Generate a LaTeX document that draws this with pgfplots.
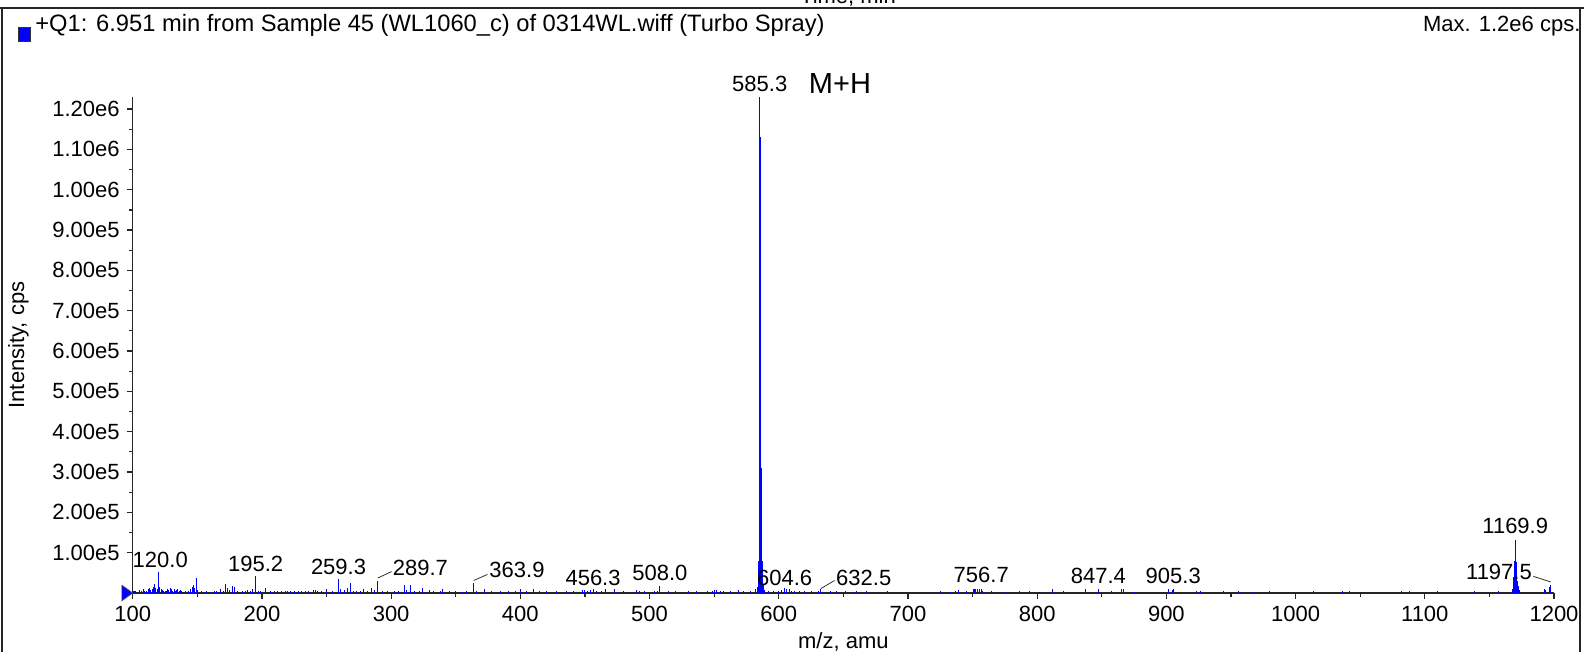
\documentclass[border=0pt]{standalone}
\usepackage{fontspec}
\setmainfont{Liberation Sans}
\usepackage{pgfplots}
\usepackage{pgfplotstable}
\pgfplotsset{compat=1.18}

\pgfplotstableread{
mz int
100.5 6000
101.5 4000
102.5 5000
104.0 3000
105.5 8000
106.5 5000
108.0 11000
109.0 6000
110.5 4000
112.0 9000
113.0 12000
114.0 7000
115.0 10000
116.0 16000
117.0 22000
118.0 12000
119.0 9000
120.0 53000
121.0 14000
122.0 10000
123.0 8000
124.0 6000
125.0 5000
126.0 4000
127.0 9000
128.0 7000
129.0 12000
130.0 10000
131.0 6000
132.0 11000
133.0 5000
134.0 8000
135.0 9000
136.0 4000
137.0 7000
138.0 5000
139.5 3000
141.0 4000
143.0 5000
145.0 9000
146.0 15000
147.0 20000
148.0 12000
149.5 36000
150.5 8000
153.0 4000
157.0 6000
163.0 5000
165.0 4000
168.0 9000
170.0 6000
171.5 22000
173.0 12000
175.0 8000
177.5 18000
179.0 14000
181.0 5000
185.0 6000
187.0 4000
189.0 8000
191.0 5000
193.0 9000
195.2 42000
197.0 6000
199.0 4000
203.0 13000
207.0 4000
210.0 5000
212.0 6000
215.0 4000
218.0 6000
220.0 4000
222.0 5000
225.0 4000
228.0 5000
231.0 4000
234.0 6000
236.0 4000
240.0 7000
241.5 8000
243.0 6000
246.0 5000
250.0 9000
255.0 4000
259.3 35000
261.0 9000
264.0 7000
266.0 12000
268.5 24000
271.0 6000
273.0 5000
276.0 6000
279.0 9000
282.0 6000
285.0 13000
287.0 8000
289.7 30000
293.0 4000
297.0 5000
303.0 4000
306.0 6000
310.0 20000
312.0 8000
315.0 20000
318.0 6000
322.0 4000
324.0 12000
330.0 8000
333.0 4000
338.0 6000
340.0 9000
345.0 4000
350.0 5000
355.0 3000
358.0 4000
363.9 24000
366.0 5000
372.0 11000
378.0 5000
385.0 4000
391.0 6000
396.0 4000
400.5 10000
405.0 4000
410.0 11000
415.0 4000
420.0 5000
428.0 4000
436.0 6000
441.0 5000
448.0 7000
450.0 8000
452.0 6000
454.0 8000
456.3 10000
459.0 5000
463.0 5000
466.0 11000
473.0 9000
480.0 4000
490.0 7000
492.0 5000
496.0 4000
504.0 5000
506.0 6000
508.0 17000
515.0 4000
520.0 5000
530.0 4000
536.0 5000
545.0 4000
549.0 6000
550.0 8000
552.0 7000
555.0 5000
557.0 4000
563.0 6000
569.0 7000
573.0 4000
578.0 6000
582.0 9000
583.5 14000
584.5 80000
585.0 320000
585.1 800000
585.2 1150000
585.3 1230000
585.4 1200000
585.5 1130000
585.6 900000
585.8 600000
586.0 525000
586.1 520000
586.2 380000
586.3 310000
586.5 200000
586.8 120000
587.0 110000
587.2 80000
587.5 45000
588.0 20000
589.0 8000
592.0 5000
596.0 4000
600.0 6000
602.0 7000
604.6 12000
606.0 9000
608.0 11000
610.0 6000
612.0 5000
616.0 4000
620.0 5000
625.0 4000
631.0 6000
632.5 10000
640.0 4000
645.0 5000
652.0 4000
660.0 5000
668.0 4000
675.0 3000
684.0 4000
690.0 3000
712.0 3000
725.0 5000
733.0 3000
737.0 6000
739.0 7000
745.0 4000
750.5 11000
751.5 10000
752.5 11000
754.0 9000
755.5 11000
756.7 11000
758.0 5000
765.0 4000
775.0 3000
786.0 4000
794.0 5000
802.0 3000
812.0 11000
820.0 4000
830.0 3000
837.5 11000
847.4 11000
857.5 5000
865.0 9000
866.5 11000
875.0 3000
885.0 3000
902.0 11000
904.6 8000
905.3 11000
915.0 3000
923.5 5000
926.6 5000
943.9 4000
956.0 5000
967.0 3000
980.0 5000
1014.0 5000
1036.5 4000
1041.6 5000
1060.0 3000
1082.0 5000
1088.0 5000
1110.0 4000
1125.0 3000
1138.4 5000
1156.9 6000
1167.5 10000
1168.5 40000
1169.3 80000
1169.9 132000
1170.3 100000
1170.8 78000
1171.3 40000
1171.8 30000
1172.5 17000
1173.5 8000
1192.6 11000
1193.6 8000
1196.5 15000
1197.5 21000
}\spectrum

\begin{document}
\begin{tikzpicture}
\path[use as bounding box] (0,0) rectangle (792pt,326pt);
% frame
\draw[black!85, line width=1pt] (0,322pt) -- (792pt,322pt);
\draw[black!85, line width=1pt] (1pt,322pt) -- (1pt,0);
\draw[black!85, line width=1pt] (790.2pt,322pt) -- (790.2pt,0);
\begin{scope}
\clip (0,322.5pt) rectangle (792pt,326pt);
\node[anchor=base, inner sep=0pt, font=\fontsize{11}{13}\selectfont] at (424pt,324pt) {Time, min};
\end{scope}
% header
\filldraw[fill=blue, draw=black!80, line width=0.4pt] (9pt,305.5pt) rectangle (15pt,312.5pt);
\node[anchor=base west, inner sep=0pt, font=\fontsize{11.85}{14}\selectfont] at (17.5pt,310pt) {+Q1: 6.951 min from Sample 45 (WL1060\_c) of 0314WL.wiff (Turbo Spray)};
\node[anchor=base east, inner sep=0pt, font=\fontsize{11}{13}\selectfont] at (790.4pt,310pt) {Max. 1.2e6 cps.};

\begin{axis}[
  at={(66.35pt,29.5pt)}, anchor=south west,
  scale only axis, width=710.65pt, height=248pt,
  xmin=100, xmax=1200, ymin=0, ymax=1230000,
  axis x line=bottom, axis y line=left,
  axis line style={-, black!85, line width=0.7pt},
  xtick={100,200,300,400,500,600,700,800,900,1000,1100,1200},
  xticklabels={100,200,300,400,500,600,700,800,900,1000,1100,1200},
  minor x tick num=1,
  ytick={100000,200000,300000,400000,500000,600000,700000,800000,900000,1000000,1100000,1200000},
  yticklabels={1.00e5,2.00e5,3.00e5,4.00e5,5.00e5,6.00e5,7.00e5,8.00e5,9.00e5,1.00e6,1.10e6,1.20e6},
  minor y tick num=1,
  scaled y ticks=false,
  tick align=outside, major tick length=3pt, minor tick length=2pt,
  tick style={black!85, line width=0.6pt},
  ticklabel style={font=\fontsize{11}{13}\selectfont},
  xlabel={m/z, amu},
  xlabel style={at={(axis description cs:0.5,0)}, anchor=base, yshift=-28pt, font=\fontsize{11}{13}\selectfont},
  ylabel={Intensity, cps},
  ylabel style={at={(axis description cs:-0.07648,0.5)}, anchor=base, font=\fontsize{11}{13}\selectfont},
  clip=false,
]
\addplot[ycomb, blue, line width=0.5pt, mark=none] table[x=mz, y=int] {\spectrum};
\addplot[only marks, mark=triangle*, mark size=4.5pt, mark options={fill=blue, draw=black!70, line width=0.3pt, xshift=-3.6pt, rotate=-90, yscale=0.8}] coordinates {(100,0)};

% peak labels
\begin{scope}[every node/.style={anchor=base, inner sep=0pt, font=\fontsize{11}{13}\selectfont}]
\node at (axis cs:585.3,1243200) {585.3};
\node[font=\fontsize{14.5}{17}\selectfont] at (axis cs:647.4,1239300) {M+H};
\node at (axis cs:121.3,63700) {120.0};
\node at (axis cs:195.2,53100) {195.2};
\node at (axis cs:259.3,46100) {259.3};
\node at (axis cs:322.7,42400) {289.7};
\node at (axis cs:397.4,37200) {363.9};
\node at (axis cs:456.3,19600) {456.3};
\node at (axis cs:508.0,31000) {508.0};
\node at (axis cs:604.6,19600) {604.6};
\node at (axis cs:665.8,19600) {632.5};
\node at (axis cs:756.7,24800) {756.7};
\node at (axis cs:847.4,23100) {847.4};
\node at (axis cs:905.3,23100) {905.3};
\node at (axis cs:1170.0,147000) {1169.9};
\node at (axis cs:1157.4,34700) {1197.5};
\end{scope}
\draw[black!80, line width=0.4pt] (axis cs:289.7,37200) -- (axis cs:300.4,53100);
\draw[black!80, line width=0.4pt] (axis cs:363.9,31000) -- (axis cs:374.6,46100);
\draw[black!80, line width=0.4pt] (axis cs:632.5,10700) -- (axis cs:643.2,31000);
\draw[black!80, line width=0.4pt] (axis cs:1197.5,27300) -- (axis cs:1184.0,41400);
\end{axis}
\end{tikzpicture}
\end{document}
